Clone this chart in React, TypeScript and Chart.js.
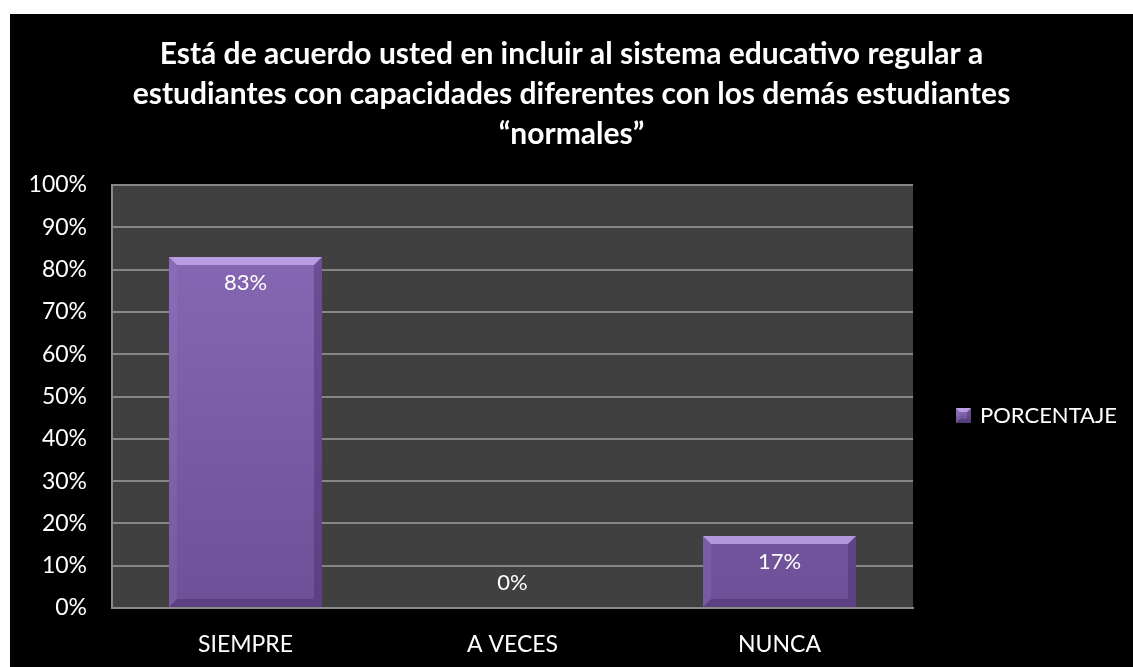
import React, { useEffect, useRef } from "react";
import { Chart, registerables } from "chart.js";

Chart.register(...registerables);

const titleLines = [
  "Está de acuerdo usted en incluir al sistema educativo regular a",
  "estudiantes con capacidades diferentes con los demás estudiantes",
  "“normales”",
];
const categories = ["SIEMPRE", "A VECES", "NUNCA"];
const values = [83, 0, 17];
const seriesName = "PORCENTAJE";
const yTicks = [0, 10, 20, 30, 40, 50, 60, 70, 80, 90, 100];

const FONT = "Lato, 'Open Sans', sans-serif";

function drawBevel(ctx: CanvasRenderingContext2D, x0: number, y0: number, x1: number, y1: number, b: number) {
  ctx.fillStyle = "rgba(200,175,240,0.75)";
  ctx.beginPath();
  ctx.moveTo(x0, y0); ctx.lineTo(x1, y0); ctx.lineTo(x1 - b, y0 + b); ctx.lineTo(x0 + b, y0 + b); ctx.closePath();
  ctx.fill();
  ctx.fillStyle = "rgba(160,130,205,0.2)";
  ctx.beginPath();
  ctx.moveTo(x0, y0); ctx.lineTo(x0 + b, y0 + b); ctx.lineTo(x0 + b, y1 - b); ctx.lineTo(x0, y1); ctx.closePath();
  ctx.fill();
  ctx.fillStyle = "rgba(60,35,95,0.35)";
  ctx.beginPath();
  ctx.moveTo(x1, y0); ctx.lineTo(x1 - b, y0 + b); ctx.lineTo(x1 - b, y1 - b); ctx.lineTo(x1, y1); ctx.closePath();
  ctx.fill();
  ctx.fillStyle = "rgba(50,30,80,0.3)";
  ctx.beginPath();
  ctx.moveTo(x0, y1); ctx.lineTo(x0 + b, y1 - b); ctx.lineTo(x1 - b, y1 - b); ctx.lineTo(x1, y1); ctx.closePath();
  ctx.fill();
}

const decorPlugin = {
  id: "decor",
  beforeDraw(chart: any) {
    const { ctx, chartArea } = chart;
    ctx.save();
    ctx.fillStyle = "#404040";
    ctx.fillRect(chartArea.left, chartArea.top, chartArea.right - chartArea.left, chartArea.bottom - chartArea.top);
    ctx.restore();
  },
  afterDatasetsDraw(chart: any) {
    const { ctx } = chart;
    const meta = chart.getDatasetMeta(0);
    ctx.save();
    meta.data.forEach((bar: any, i: number) => {
      const half = bar.width / 2;
      const x0 = bar.x - half;
      const x1 = bar.x + half;
      const y0 = Math.min(bar.y, bar.base);
      const y1 = Math.max(bar.y, bar.base);
      const h = y1 - y0;
      if (h > 2) drawBevel(ctx, x0, y0, x1, y1, Math.min(8, h / 3));
      ctx.fillStyle = "#ffffff";
      ctx.font = `22px ${FONT}`;
      ctx.textAlign = "center";
      const label = values[i] + "%";
      if (h > 30) {
        ctx.textBaseline = "top";
        ctx.fillText(label, bar.x, y0 + 15);
      } else {
        ctx.textBaseline = "bottom";
        ctx.fillText(label, bar.x, y0 - 14);
      }
    });
    ctx.restore();
  },
  afterDraw(chart: any) {
    const { ctx, width } = chart;
    ctx.save();
    ctx.fillStyle = "#ffffff";
    ctx.font = `bold 30px ${FONT}`;
    ctx.textAlign = "center";
    ctx.textBaseline = "alphabetic";
    const baselines = [50, 90, 130];
    titleLines.forEach((t, i) => ctx.fillText(t, width / 2, baselines[i]));
    const mx = 946, my = 394, ms = 15;
    const g = ctx.createLinearGradient(0, my, 0, my + ms);
    g.addColorStop(0, "#9273c2");
    g.addColorStop(1, "#5e4586");
    ctx.fillStyle = g;
    ctx.fillRect(mx, my, ms, ms);
    drawBevel(ctx, mx, my, mx + ms, my + ms, 4);
    ctx.fillStyle = "#ffffff";
    ctx.font = `22px ${FONT}`;
    ctx.textAlign = "left";
    ctx.textBaseline = "middle";
    ctx.fillText(seriesName, 970, my + ms / 2);
    ctx.restore();
  },
};

export default function App() {
  const ref = useRef<HTMLCanvasElement | null>(null);
  useEffect(() => {
    if (!ref.current) return;
    const chart = new Chart(ref.current, {
      type: "bar",
      data: {
        labels: categories,
        datasets: [
          {
            label: seriesName,
            data: values,
            backgroundColor: (c: any) => {
              const area = c.chart.chartArea;
              if (!area) return "#7e5fae";
              const g = c.chart.ctx.createLinearGradient(0, area.top, 0, area.bottom);
              g.addColorStop(0, "#8a6bb8");
              g.addColorStop(1, "#6d5098");
              return g;
            },
            borderWidth: 0,
            categoryPercentage: 1,
            barPercentage: 0.573,
          },
        ],
      },
      options: {
        responsive: false,
        animation: false,
        layout: { padding: { top: 171, right: 220, left: 0, bottom: 0 } },
        plugins: { legend: { display: false }, title: { display: false }, tooltip: { enabled: false } },
        scales: {
          x: {
            grid: { display: false },
            border: { display: true, color: "#8a8a8a", width: 2 },
            ticks: { color: "#ffffff", font: { family: FONT, size: 23 }, padding: 15 },
            afterFit: (s: any) => { s.height = 59; },
          },
          y: {
            min: 0,
            max: 100,
            afterBuildTicks: (s: any) => { s.ticks = yTicks.map((v) => ({ value: v })); },
            grid: { color: "#868686", lineWidth: 2, drawTicks: false },
            border: { display: true, color: "#8a8a8a", width: 2 },
            ticks: {
              color: "#ffffff",
              font: { family: FONT, size: 23 },
              padding: 25,
              callback: (v: any) => v + "%",
            },
            afterFit: (s: any) => { s.width = 102; },
          },
        },
      },
      plugins: [decorPlugin],
    });
    return () => chart.destroy();
  }, []);
  return (
    <div style={{ position: "absolute", left: 10, top: 14, width: 1123, height: 653, background: "#000" }}>
      <canvas ref={ref} width={1123} height={653} style={{ display: "block" }} />
    </div>
  );
}
